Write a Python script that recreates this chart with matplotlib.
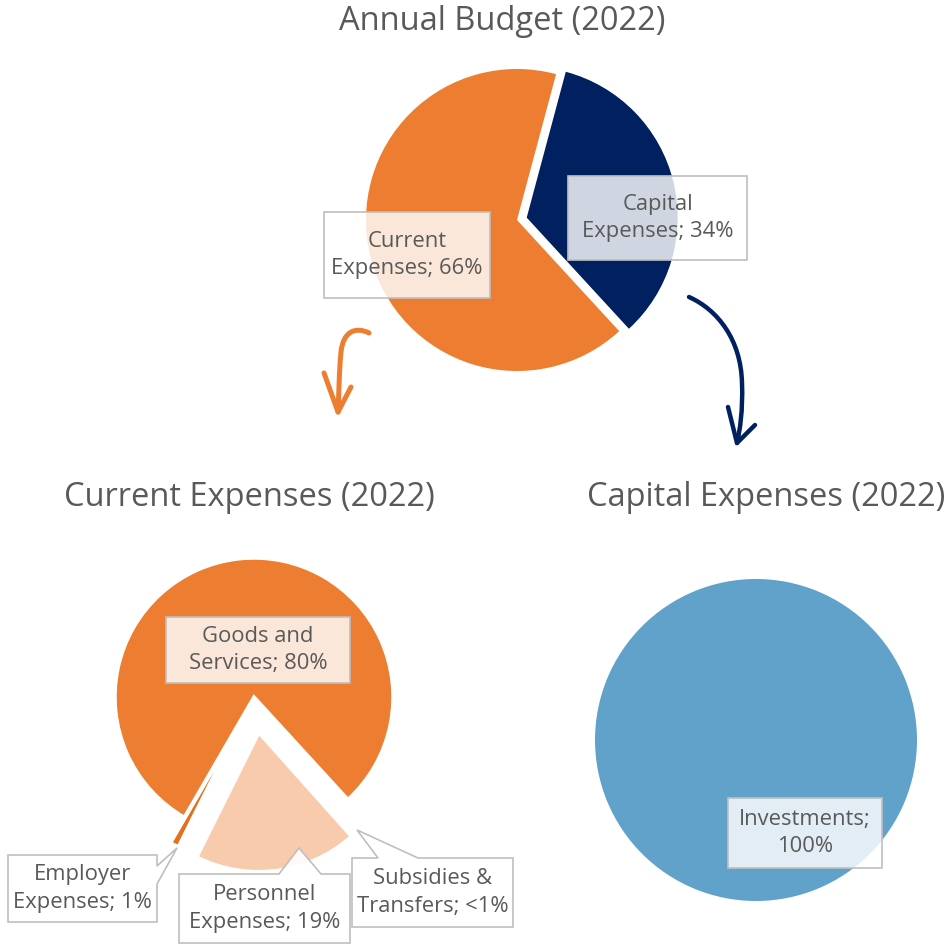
import matplotlib
matplotlib.use("Agg")
import matplotlib.pyplot as plt
from matplotlib.patches import Rectangle, Polygon, PathPatch
from matplotlib.path import Path

W, H = 951, 944

# annual budget
budget_names = ["Capital\nExpenses; 34%", "Current\nExpenses; 66%"]
budget_vals = [34, 66]
# current expenses breakdown (clockwise)
cur_names = ["Subsidies &\nTransfers; <1%", "Personnel\nExpenses; 19%",
             "Employer\nExpenses; 1%", "Goods and\nServices; 80%"]
cur_vals = [0.2, 19, 1, 80]
# capital expenses breakdown
cap_names = ["Investments;\n100%"]
cap_vals = [100]

ORANGE = "#ED7D31"
NAVY = "#002060"
PEACH = "#F8CBAD"
DKOR = "#E2711D"
BLUE = "#61A2CB"
GREY = "#595959"
EDGE = "#BFBFBF"
FONT = "Open Sans"
TS = 23.5   # title size
LS = 15.8   # label size


def Y(y):
    # image rows -> data y (y goes up)
    return H - y


fig = plt.figure(figsize=(W / 100, H / 100), dpi=100)
ax = fig.add_axes([0, 0, 1, 1])

# pies
ax.pie(budget_vals, colors=[NAVY, ORANGE], startangle=75, counterclock=False,
       center=(517, Y(220)), radius=151, explode=[10, 0],
       wedgeprops=dict(linewidth=0))
ax.pie(cur_vals, colors=[ORANGE, PEACH, DKOR, ORANGE], startangle=-47.5,
       counterclock=False, center=(254, Y(697)), radius=139,
       explode=[30, 36, 29, 0], wedgeprops=dict(linewidth=2.5, edgecolor="white"))
ax.pie(cap_vals, colors=[BLUE], center=(756, Y(740)), radius=161,
       wedgeprops=dict(linewidth=0))

ax.set_xlim(0, W)
ax.set_ylim(0, H)
ax.set_aspect("auto")
ax.axis("off")

# titles
ax.text(502, Y(22), "Annual Budget (2022)", ha="center", va="center",
        fontsize=TS, color=GREY, family=FONT)
ax.text(249, Y(497), "Current Expenses (2022)", ha="center", va="center",
        fontsize=TS, color=GREY, family=FONT)
ax.text(766, Y(497), "Capital Expenses (2022)", ha="center", va="center",
        fontsize=TS, color=GREY, family=FONT)


def box(x0, y0, x1, y1, txt):
    ax.add_patch(Rectangle((x0, Y(y1)), x1 - x0, y1 - y0, fc=(1, 1, 1, 0.82),
                           ec=EDGE, lw=1.2, zorder=5))
    ax.text((x0 + x1) / 2, Y((y0 + y1) / 2), txt, ha="center", va="center",
            fontsize=LS, color=GREY, family=FONT, linespacing=1.38, zorder=6)


def callout(pts, x0, y0, x1, y1, txt):
    ax.add_patch(Polygon([(x, Y(y)) for x, y in pts], closed=True,
                         fc=(1, 1, 1, 0.9), ec=EDGE, lw=1.2, zorder=5))
    ax.text((x0 + x1) / 2, Y((y0 + y1) / 2), txt, ha="center", va="center",
            fontsize=LS, color=GREY, family=FONT, linespacing=1.38, zorder=6)


box(324, 212, 490, 298, budget_names[1])
box(568, 176, 747, 260, budget_names[0])
box(166, 617, 350, 683, cur_names[3])
box(728, 798, 882, 868, cap_names[0])

callout([(8, 855), (157, 855), (157, 866), (177, 848), (157, 884),
         (157, 922), (8, 922)], 8, 855, 157, 922, cur_names[2])
callout([(179, 874), (279, 874), (299, 848), (321, 874), (350, 874),
         (350, 943), (179, 943)], 179, 874, 350, 943, cur_names[1])
callout([(352, 858), (378, 858), (357, 830), (418, 858), (513, 858),
         (513, 927), (352, 927)], 352, 858, 513, 927, cur_names[0])


# hand drawn arrows
def arrow(curve, head, color, lw):
    verts = [(x, Y(y)) for x, y in curve]
    codes = [Path.MOVETO] + [Path.CURVE4] * (len(verts) - 1)
    ax.add_patch(PathPatch(Path(verts, codes), fc="none", ec=color, lw=lw,
                           capstyle="round", joinstyle="round"))
    ax.plot([p[0] for p in head], [Y(p[1]) for p in head], color=color, lw=lw,
            solid_capstyle="round", solid_joinstyle="round")


arrow([(369, 333), (355, 326), (343, 332), (341, 352),
       (339, 372), (339, 392), (338, 412)],
      [(324, 373), (338, 412), (351, 387)], ORANGE, 3.6)
arrow([(689, 297), (718, 310), (741, 340), (742, 383),
       (743, 410), (740, 430), (737, 443)],
      [(728, 407), (737, 443), (755, 425)], NAVY, 3.2)

fig.savefig("out.png", dpi=100)
